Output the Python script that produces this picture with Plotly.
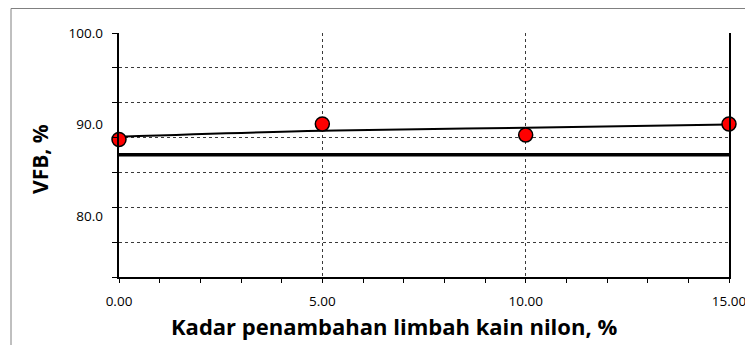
import numpy as np
import plotly.graph_objects as go

# ---- data ----
x_pts = [0, 5, 10, 15]
vfb_pts = [88.36, 90.05, 88.85, 90.05]

trend_x = [0, 5, 10, 15]
trend_y = [88.67, 89.32, 89.65, 90.0]

limit_x = [0, 15]
limit_y = [86.7, 86.7]

y_labels = [100, 90, 80]
y_label_text = ["100.0", "90.0", "80.0"]
x_labels = [0, 5, 10, 15]
x_label_text = ["0.00", "5.00", "10.00", "15.00"]

y_min, y_max = 73.33, 100.0
x_min, x_max = 0, 15
y_grid = list(np.linspace(y_min, y_max, 8))

FONT = "Open Sans"
OFF = 8  # page body margin
W, H = 753 - OFF, 345 - OFF
L, T = 119 - OFF, 33 - OFF
pw, ph = 610, 244
R, B = W - L - pw, H - T - ph


def px(xp):
    return (xp - OFF - L) / pw


def py(yp):
    return (T + ph - (yp - OFF)) / ph


fig = go.Figure()

fig.add_trace(go.Scatter(x=limit_x, y=limit_y, mode="lines",
                         line=dict(color="black", width=3.5),
                         hoverinfo="skip", showlegend=False))
fig.add_trace(go.Scatter(x=trend_x, y=trend_y, mode="lines",
                         line=dict(color="black", width=2, shape="spline"),
                         showlegend=False))
fig.add_trace(go.Scatter(x=x_pts, y=vfb_pts, mode="markers",
                         marker=dict(color="#ff0000", size=14,
                                     line=dict(color="black", width=1.5)),
                         cliponaxis=False, showlegend=False))
# invisible trace to activate label axis
fig.add_trace(go.Scatter(x=[None], y=[None], yaxis="y2", showlegend=False))

grid_col = "#3a3a3a"
fig.update_layout(
    width=W, height=H,
    margin=dict(l=L, r=R, t=T, b=B, autoexpand=False),
    paper_bgcolor="white", plot_bgcolor="white",
    font=dict(family=FONT, size=13, color="black"),
    xaxis=dict(range=[x_min, x_max], tickvals=x_labels, ticktext=x_label_text,
               showgrid=True, gridcolor=grid_col, griddash="dot", gridwidth=1,
               showline=True, linecolor="black", linewidth=2,
               ticks="outside", ticklen=4, tickcolor="black", tickwidth=1,
               minor=dict(dtick=1, ticks="outside", ticklen=4,
                          tickcolor="black", tickwidth=1, showgrid=False),
               ticklabelstandoff=7, zeroline=False, automargin=False,
               tickfont=dict(family=FONT, size=13.5)),
    yaxis=dict(range=[y_min, y_max], tickvals=y_grid, showticklabels=False,
               showgrid=True, gridcolor=grid_col, griddash="dot", gridwidth=1,
               showline=True, linecolor="black", linewidth=2, mirror=True,
               ticks="outside", ticklen=5, tickcolor="black", tickwidth=1,
               zeroline=False, automargin=False),
    yaxis2=dict(range=[y_min, y_max], overlaying="y", side="left",
                tickvals=y_labels, ticktext=y_label_text,
                showgrid=False, showline=False, ticks="", zeroline=False,
                ticklabelstandoff=15, automargin=False,
                tickfont=dict(family=FONT, size=13.5)),
    annotations=[
        dict(text="<b>Kadar penambahan limbah kain nilon, %</b>",
             xref="paper", yref="paper", x=px(394), y=py(326),
             xanchor="center", yanchor="middle", showarrow=False,
             font=dict(family=FONT, size=22, color="black")),
        dict(text="<b>VFB, %</b>", textangle=-90,
             xref="paper", yref="paper", x=px(40), y=py(159),
             xanchor="center", yanchor="middle", showarrow=False,
             font=dict(family=FONT, size=21, color="black")),
    ],
    shapes=[
        dict(type="rect", xref="paper", yref="paper",
             x0=px(11), x1=px(765),
             y0=py(360), y1=py(8.5),
             line=dict(color="#808080", width=1), fillcolor="rgba(0,0,0,0)",
             layer="below"),
    ],
)

fig.write_html("out.html")
